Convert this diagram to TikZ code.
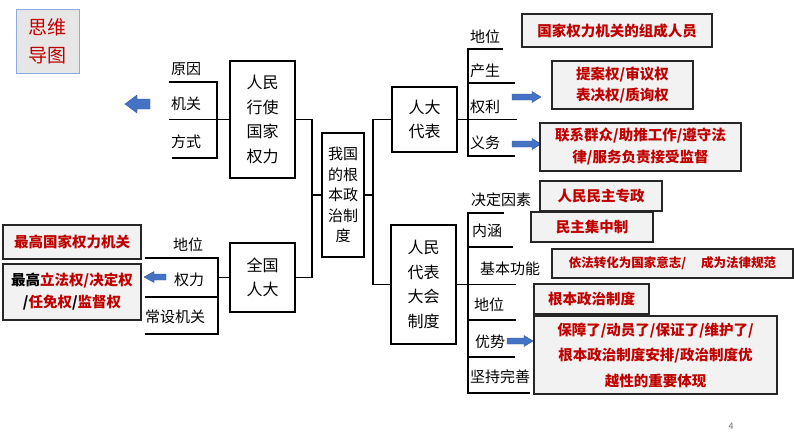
\documentclass[tikz,border=0pt]{standalone}
\usepackage{fontspec}
\setmainfont{Noto Sans CJK SC}
\definecolor{darkred}{HTML}{C00000}
\definecolor{arrowblue}{HTML}{4472C4}
\definecolor{tagfill}{HTML}{E7E6E6}
\definecolor{tagline}{HTML}{8FAADC}
\begin{document}
\begin{tikzpicture}[x=1pt,y=-1pt,
  box/.style={draw=black, line width=1.2pt, inner sep=0pt, align=center, font=\fontsize{16}{24.5}\selectfont},
  redbox/.style={draw=black!85, line width=1.3pt, fill=black!5, inner sep=0pt, align=center, text=darkred, font=\bfseries\fontsize{14.5}{22}\selectfont},
  lbl/.style={inner sep=0pt, anchor=west, font=\fontsize{15}{15}\selectfont},
  ln/.style={line width=1.2pt},
  blk/.style={fill=arrowblue, draw=arrowblue!75!black, line width=0.4pt}]
\useasboundingbox (0,0) rectangle (794,447);

% tag box
\node[draw=tagline, line width=0.8pt, fill=tagfill, minimum width=63pt, minimum height=64pt, inner sep=0pt, align=center, text=darkred, font=\fontsize{19}{28}\selectfont] (tag) at (47.5,41) {思维\\导图};

% main boxes
\node[box, minimum width=65pt, minimum height=117pt] (A) at (262.5,119.5) {人民\\行使\\国家\\权力};
\node[box, minimum width=65pt, minimum height=69pt] (B) at (262.5,277.5) {全国\\人大};
\node[box, minimum width=42pt, minimum height=124pt, font=\fontsize{15}{20.5}\selectfont] (M) at (343,195) {我国\\的根\\本政\\治制\\度};
\node[box, minimum width=65pt, minimum height=65pt] (D) at (424.5,119.5) {人大\\代表};
\node[box, minimum width=65pt, minimum height=119pt] (R) at (423.5,284.5) {人民\\代表\\大会\\制度};

% central connectors
\coordinate (jl) at (312,0);
\coordinate (jr) at (373,0);
\draw[ln] (A.east) -| (jl |- M.west) -- (M.west);
\draw[ln] (B.east) -| (jl |- M.west);
\draw[ln] (M.east) -- (jr |- M.east);
\draw[ln] (D.west) -| (jr |- M.east);
\draw[ln] (R.west) -| (jr |- M.east);

% bracket of A
\draw[ln] (A.west) -- (169,119.5);
\draw[ln] (169,82) -- (217,82) -- (217,158) -- (172,158);
\node[lbl] (a1) at (171,69) {原因};
\node[lbl] (a2) at (171,104) {机关};
\node[lbl] (a3) at (171,142) {方式};
\fill[blk] (125,104) -- (137,95) -- (137,99) -- (150,99) -- (150,109) -- (137,109) -- (137,113) -- cycle;

% bracket of B
\draw[ln] (B.west) -- (218,277.5);
\draw[ln] (145,258) -- (218,258) -- (218,334) -- (145,334);
\draw[ln] (145,297) -- (218,297);
\node[lbl] (b1) at (173,245) {地位};
\node[lbl] (b2) at (174,280) {权力};
\node[lbl] (b3) at (145,317) {常设机关};
\fill[blk] (144,277) -- (154,271.5) -- (154,274) -- (166,274) -- (166,280) -- (154,280) -- (154,282.5) -- cycle;

% left red boxes
\node[redbox, minimum width=138pt, minimum height=34pt] (L1) at (72,242) {最高国家权力机关};
\node[redbox, minimum width=138pt, minimum height=56pt] (L2) at (72,292) {\textcolor{black}{最高}立法权/决定权\\\textcolor{black}{/}任免权\textcolor{black}{/}监督权};

% bracket of D
\draw[ln] (D.east) -- (517,119.5);
\draw[ln] (503,49) -- (468,49) -- (468,156) -- (515,156);
\draw[ln] (468,83) -- (515,83);
\node[lbl] (d1) at (470,37) {地位};
\node[lbl] (d2) at (470,71) {产生};
\node[lbl] (d3) at (470,107) {权利};
\node[lbl] (d4) at (470,143) {义务};
\fill[blk] (512,94) -- (532,94) -- (532,91.5) -- (541,97) -- (532,102.5) -- (532,100) -- (512,100) -- cycle;
\fill[blk] (512,141) -- (532,141) -- (532,138.5) -- (541,144) -- (532,149.5) -- (532,147) -- (512,147) -- cycle;

% bracket of R
\draw[ln] (R.east) -- (516,284.5);
\draw[ln] (504,213) -- (468,213) -- (468,393) -- (530,393);
\draw[ln] (468,247) -- (513,247);
\draw[ln] (468,320) -- (516,320);
\draw[ln] (468,357) -- (515,357);
\node[lbl] (r1) at (471,200) {决定因素};
\node[lbl] (r2) at (472,231) {内涵};
\node[lbl] (r3) at (480,269) {基本功能};
\node[lbl] (r4) at (474,305) {地位};
\node[lbl] (r5) at (475,342) {优势};
\node[lbl] (r6) at (470,377) {坚持完善};
\fill[blk] (507,338) -- (524,338) -- (524,335.5) -- (533,341) -- (524,346.5) -- (524,344) -- (507,344) -- cycle;

% right red boxes
\node[redbox, minimum width=190pt, minimum height=33pt] (q1) at (617,30.5) {国家权力机关的组成人员};
\node[redbox, minimum width=141pt, minimum height=48pt, font=\bfseries\fontsize{14.5}{21}\selectfont] (q2) at (622.5,85) {提案权/审议权\\表决权/质询权};
\node[redbox, minimum width=201pt, minimum height=48pt] (q3) at (640.5,147) {联系群众/助推工作/遵守法\\律/服务负责接受监督};
\node[redbox, minimum width=122pt, minimum height=30pt] (q4) at (601,196) {人民民主专政};
\node[redbox, minimum width=122pt, minimum height=30pt] (q5) at (592,227) {民主集中制};
\node[redbox, minimum width=241pt, minimum height=29pt, font=\bfseries\fontsize{12.5}{15}\selectfont] (q6) at (672.5,263.5) {依法转化为国家意志/\hspace{1.2em}成为法律规范};
\node[redbox, minimum width=115pt, minimum height=30pt] (q7) at (591.5,299) {根本政治制度};
\node[redbox, minimum width=243pt, minimum height=78pt, font=\bfseries\fontsize{14.5}{25.5}\selectfont] (q8) at (655.5,355) {保障了/动员了/保证了/维护了/\\根本政治制度安排/政治制度优\\越性的重要体现};

% page number
\node[text=black!55, font=\fontsize{9}{9}\selectfont, inner sep=0pt] (pg) at (731,426) {4};
\end{tikzpicture}
\end{document}
